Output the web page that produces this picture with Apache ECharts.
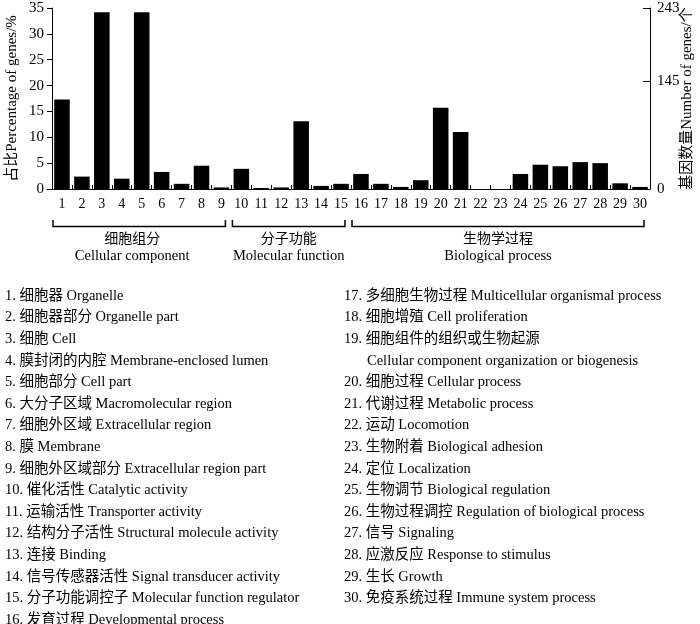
<!DOCTYPE html>
<html>
<head>
<meta charset="utf-8">
<script src="https://cdn.jsdelivr.net/npm/echarts@6/dist/echarts.min.js"></script>
<style>
html,body{margin:0;padding:0;background:#fff;}
#main{width:700px;height:624px;}
</style>
</head>
<body>
<div id="main"></div>
<script type="text/javascript">
// category numbers on the x axis
var cats = ['1','2','3','4','5','6','7','8','9','10','11','12','13','14','15',
            '16','17','18','19','20','21','22','23','24','25','26','27','28','29','30'];
// percentage of genes (left axis)
var pct = [17.3, 2.4, 34.2, 2.0, 34.2, 3.3, 1.0, 4.5, 0.3,
           3.9, 0.2, 0.3, 13.1, 0.6, 1.0,
           2.9, 1.0, 0.4, 1.7, 15.7, 11.0, 0, 0, 2.9, 4.7, 4.4, 5.2, 5.0, 1.1, 0.4];
var rightTicks = [0, 145, 243];
// groups under the axis
var groupCn = ['细胞组分', '分子功能', '生物学过程'];
var groupEn = ['Cellular component', 'Molecular function', 'Biological process'];
var groupFirst = [0, 9, 15];
var groupLast = [8, 14, 29];
// term list under the chart
var terms = [
  '细胞器 Organelle',
  '细胞器部分 Organelle part',
  '细胞 Cell',
  '膜封闭的内腔 Membrane-enclosed lumen',
  '细胞部分 Cell part',
  '大分子区域 Macromolecular region',
  '细胞外区域 Extracellular region',
  '膜 Membrane',
  '细胞外区域部分 Extracellular region part',
  '催化活性 Catalytic activity',
  '运输活性 Transporter activity',
  '结构分子活性 Structural molecule activity',
  '连接 Binding',
  '信号传感器活性 Signal transducer activity',
  '分子功能调控子 Molecular function regulator',
  '发育过程 Developmental process',
  '多细胞生物过程 Multicellular organismal process',
  '细胞增殖 Cell proliferation',
  '细胞组件的组织或生物起源\nCellular component organization or biogenesis',
  '细胞过程 Cellular process',
  '代谢过程 Metabolic process',
  '运动 Locomotion',
  '生物附着 Biological adhesion',
  '定位 Localization',
  '生物调节 Biological regulation',
  '生物过程调控 Regulation of biological process',
  '信号 Signaling',
  '应激反应 Response to stimulus',
  '生长 Growth',
  '免疫系统过程 Immune system process'
];

var FONT = "'Liberation Serif','Noto Sans CJK SC',serif";
var chart = echarts.init(document.getElementById('main'));

var option = {
  animation: false,
  backgroundColor: '#fff',
  grid: {left: 52, right: 50, top: 8, bottom: 435, outerBoundsMode: 'none', containLabel: false},
  xAxis: {
    type: 'category',
    data: cats,
    axisLine: {lineStyle: {color: '#000', width: 1}},
    axisTick: {show: true, inside: true, length: 4, interval: 0, lineStyle: {color: '#000'}},
    axisLabel: {interval: 0, margin: 8, color: '#000', fontSize: 14, fontFamily: FONT}
  },
  yAxis: [
    {
      type: 'value', min: 0, max: 35, interval: 5,
      name: '占比Percentage of genes/%',
      nameLocation: 'middle', nameRotate: 90, nameGap: 32, nameMoveOverlap: false,
      nameTextStyle: {color: '#000', fontSize: 15, fontFamily: FONT},
      axisLine: {show: true, lineStyle: {color: '#000', width: 1}},
      axisTick: {show: true, length: 5, lineStyle: {color: '#000'}},
      axisLabel: {margin: 8, color: '#000', fontSize: 15, fontFamily: FONT},
      splitLine: {show: false}
    },
    {
      type: 'value', min: 0, max: 243, position: 'right',
      name: '基因数量Number of genes/个',
      nameLocation: 'middle', nameRotate: 90, nameGap: 30, nameMoveOverlap: false,
      nameTextStyle: {color: '#000', fontSize: 15, fontFamily: FONT},
      axisLine: {show: true, lineStyle: {color: '#000', width: 1}},
      axisTick: {show: true, inside: true, length: 7, customValues: rightTicks, lineStyle: {color: '#000'}},
      axisLabel: {margin: 7, color: '#000', fontSize: 15, fontFamily: FONT, customValues: rightTicks},
      splitLine: {show: false}
    }
  ],
  series: [{
    type: 'bar',
    yAxisIndex: 0,
    data: pct,
    barWidth: '78%',
    itemStyle: {color: '#000'}
  }]
};
chart.setOption(option);

// brackets + group names, and the term list
var band = chart.convertToPixel({xAxisIndex: 0}, 1) - chart.convertToPixel({xAxisIndex: 0}, 0);
var g = [];
for (var i = 0; i < groupCn.length; i++) {
  var x0 = chart.convertToPixel({xAxisIndex: 0}, groupFirst[i]) - band / 2 + 1;
  var x1 = chart.convertToPixel({xAxisIndex: 0}, groupLast[i]) + band / 2 - 6;
  g.push({
    type: 'polyline',
    shape: {points: [[x0, 220], [x0, 226.5], [x1, 226.5], [x1, 220]]},
    style: {stroke: '#000', lineWidth: 1.5, fill: null}
  });
  var cx = (x0 + x1) / 2 - (i === 0 ? 7 : 0);
  g.push({type: 'text', x: cx, y: 239,
    style: {text: groupCn[i], font: '14px ' + FONT, fill: '#000', align: 'center', verticalAlign: 'middle'}});
  g.push({type: 'text', x: cx, y: 256.5,
    style: {text: groupEn[i], font: '14.5px ' + FONT, fill: '#000', align: 'center', verticalAlign: 'middle'}});
}

var lineH = 21.6;
var row = 0;
for (var k = 0; k < terms.length; k++) {
  var colX = k < 16 ? 5 : 344;
  if (k === 16) row = 0;
  var parts = terms[k].split('\n');
  g.push({type: 'text', x: colX, y: 296 + row * lineH,
    style: {text: (k + 1) + '. ' + parts[0], font: '14.5px ' + FONT, fill: '#000', align: 'left', verticalAlign: 'middle'}});
  row++;
  if (parts.length > 1) {
    g.push({type: 'text', x: colX + 23, y: 296 + row * lineH,
      style: {text: parts[1], font: '14.5px ' + FONT, fill: '#000', align: 'left', verticalAlign: 'middle'}});
    row++;
  }
}
chart.setOption({graphic: g});
</script>
</body>
</html>
